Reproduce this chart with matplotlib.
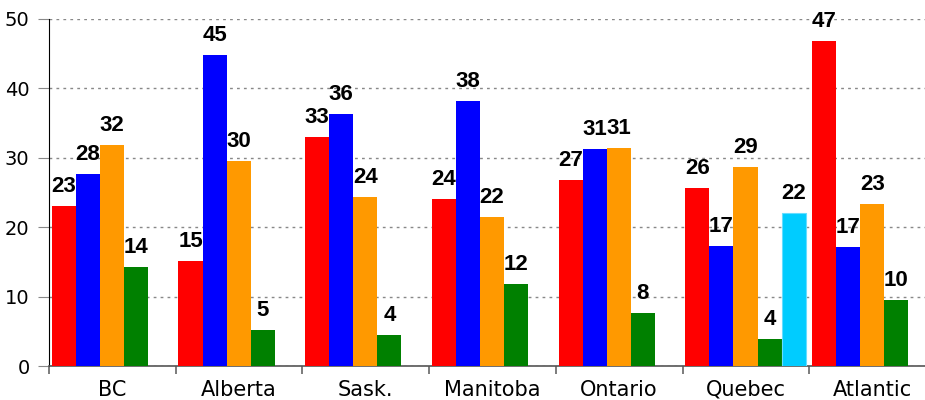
import numpy as np
import matplotlib.pyplot as plt

# regions and the five series (bar heights)
regions = ['BC', 'Alberta', 'Sask.', 'Manitoba', 'Ontario', 'Quebec', 'Atlantic']
red_vals = [23.0, 15.1, 33.0, 24.1, 26.8, 25.7, 46.8]
blue_vals = [27.7, 44.8, 36.3, 38.2, 31.3, 17.3, 17.2]
orange_vals = [31.8, 29.5, 24.4, 21.5, 31.4, 28.7, 23.3]
green_vals = [14.3, 5.2, 4.5, 11.8, 7.6, 3.9, 9.5]
cyan_vals = [np.nan, np.nan, np.nan, np.nan, np.nan, 22.0, np.nan]

series = [red_vals, blue_vals, orange_vals, green_vals, cyan_vals]
colors = ['#ff0000', '#0000ff', '#ff9900', '#008000', '#00ccff']

fig = plt.figure(figsize=(9.25, 4), dpi=100)
ax = fig.add_axes([49 / 925, 34 / 400, 1 - 49 / 925, 347 / 400])

slot = 0.19
start = 0.022
x = np.arange(len(regions))
for j, (vals, c) in enumerate(zip(series, colors)):
    xs = x - 0.5 + start + (j + 0.5) * slot
    vals = np.array(vals, dtype=float)
    ok = ~np.isnan(vals)
    ec = '#66ddff' if j == 4 else c
    ax.bar(xs[ok], vals[ok], width=slot, color=c, edgecolor=ec,
           linewidth=0.8 if j == 4 else 0, zorder=3)
    for xi, v in zip(xs[ok], vals[ok]):
        ax.annotate(str(int(round(v))), (xi, v), xytext=(0, 6.5),
                    textcoords='offset points', ha='center', va='bottom',
                    fontsize=16, fontweight='bold', family='Liberation Sans',
                    color='black', zorder=4)

ax.set_ylim(0, 50)
ax.set_xlim(-0.5, -0.5 + 876 / 126.7)
ax.set_yticks([0, 10, 20, 30, 40, 50])
ax.yaxis.grid(True, linestyle=(0, (2, 3)), color='#888888', linewidth=1, zorder=0)

# category boundaries as major ticks, names on minor ticks
ax.set_xticks(np.arange(len(regions)) - 0.5)
ax.set_xticklabels([])
ax.set_xticks(x, minor=True)
ax.set_xticklabels(regions, minor=True, fontsize=15, family='DejaVu Sans')
ax.tick_params(axis='x', which='minor', length=0, pad=10)
ax.tick_params(axis='x', which='major', length=6, color='#666666', width=1.2)
ax.tick_params(axis='y', length=8, color='#888888', labelsize=14, pad=6)

ax.spines['top'].set_visible(False)
ax.spines['right'].set_visible(False)
ax.spines['left'].set_color('black')
ax.spines['bottom'].set_color('#555555')
ax.spines['bottom'].set_linewidth(1.2)

fig.savefig('out.png', dpi=100)
